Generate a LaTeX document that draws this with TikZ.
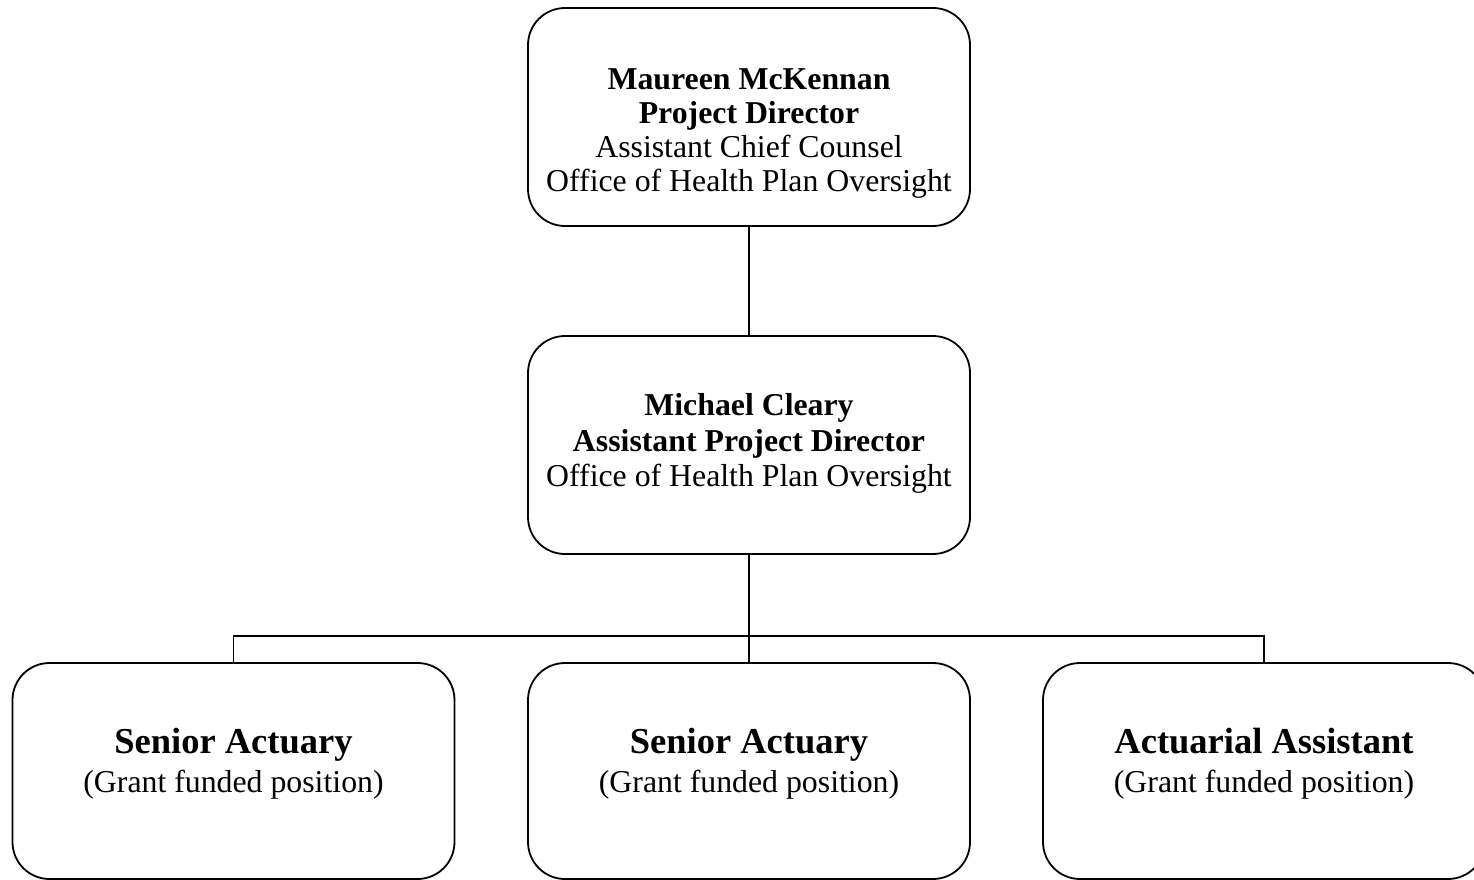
\documentclass[tikz,border=0pt]{standalone}
\usepackage{fontspec}
\setmainfont{Liberation Serif}
\begin{document}
\begin{tikzpicture}[x=1pt,y=-1pt,
  box/.style={draw,line width=1.8pt,rounded corners=37pt,minimum width=442pt,minimum height=218pt,inner sep=0pt},
  txt/.style={align=center,inner sep=0pt,font=\fontsize{31.8}{34}\selectfont},
  bigt/.style={align=center,inner sep=0pt,font=\fontsize{31.8}{39}\selectfont},
  conn/.style={line width=1.8pt}]
\useasboundingbox (0,0) rectangle (1474,880);
\node[box] (top) at (749,117) {};
\node[box] (mid) at (749,445) {};
\node[box,minimum height=216pt] (bl) at (233.5,771) {};
\node[box,minimum height=216pt] (bm) at (749,771) {};
\node[box,minimum height=216pt] (br) at (1264,771) {};
\node[txt] (ttop) at (749,134) {\textbf{Maureen McKennan}\\\textbf{Project Director}\\Assistant Chief Counsel\\Office of Health Plan Oversight};
\node[txt,font=\fontsize{31.8}{35.5}\selectfont] (tmid) at (749,443.5) {\textbf{Michael Cleary}\\\textbf{Assistant Project Director}\\Office of Health Plan Oversight};
\node[bigt] (tbl) at (233.5,764) {{\fontsize{36.5}{39}\selectfont\bfseries Senior Actuary}\\(Grant funded position)};
\node[bigt] (tbm) at (749,764) {{\fontsize{36.5}{39}\selectfont\bfseries Senior Actuary}\\(Grant funded position)};
\node[bigt] (tbr) at (1264,764) {{\fontsize{36.5}{39}\selectfont\bfseries Actuarial Assistant}\\(Grant funded position)};
\draw[conn] (top.south) -- (mid.north);
\draw[conn] (mid.south) -- (bm.north);
\draw[conn] (bl.north) -- ++(0,-26) -| (br.north);
\end{tikzpicture}
\end{document}
